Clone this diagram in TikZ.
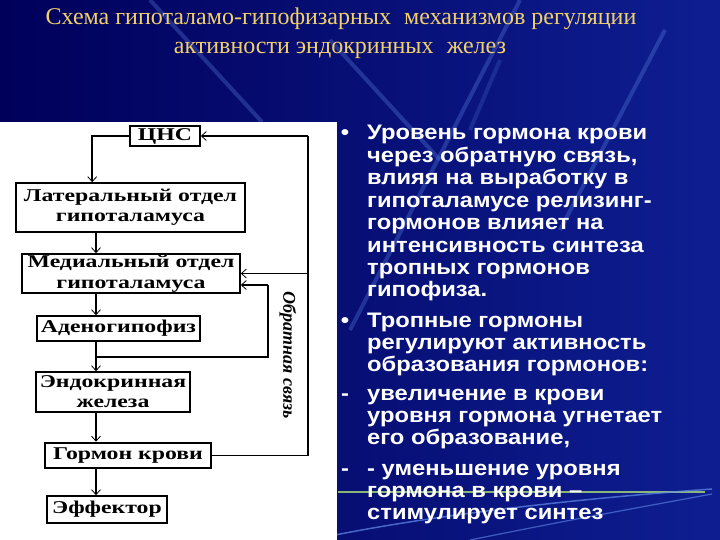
\documentclass[tikz,border=0pt]{standalone}
\usepackage{fontspec}
\setmainfont{Liberation Serif}
\newfontfamily\boxfont{Liberation Serif}[FakeStretch=1.32]
\newfontfamily\txtfont{Liberation Sans}[FakeStretch=1.13]
\usetikzlibrary{arrows.meta}
\definecolor{navyA}{RGB}{0,0,90}
\definecolor{navyB}{RGB}{14,30,145}
\definecolor{titleyel}{RGB}{242,208,105}
\definecolor{streak}{RGB}{100,140,235}
\definecolor{greenline}{RGB}{160,210,120}
\begin{document}
\begin{tikzpicture}[x=1pt,y=-1pt,
  box/.style={draw=black, line width=1.6pt, fill=white, inner sep=0pt, align=center,
    font=\boxfont\bfseries\fontsize{18}{20}\selectfont},
  arr/.style={line width=1.6pt, -{Straight Barb[length=5pt,width=9pt,line width=0.8pt]}},
  fbline/.style={line width=1.6pt},
  body/.style={anchor=base west, text=white, inner sep=0pt,
    font=\txtfont\bfseries\fontsize{21}{22.4}\selectfont},
  bulletmark/.style={anchor=base, text=white, inner sep=0pt,
    font=\txtfont\bfseries\fontsize{21}{22.4}\selectfont},
  ttl/.style={anchor=base, text=titleyel, inner sep=0pt, font=\fontsize{24}{28}\selectfont},
  streakline/.style={draw=streak, opacity=0.3, line width=4pt}
]
% background
\useasboundingbox (0,0) rectangle (720,540);
\shade[left color=navyA, right color=navyB] (0,0) rectangle (720,540);
\draw[streakline] (150,0) -- (262,122);
\draw[streakline] (520,0) -- (350,330);
\draw[streakline] (330,40) -- (440,160);
\draw[streakline] (665,30) -- (560,230);
\draw[streakline, opacity=0.2] (500,60) -- (470,130);
\draw[draw=greenline, line width=2.5pt, opacity=0.85] (338,492) -- (705,492);
\draw[draw=streak, line width=1.5pt, opacity=0.7] (330,536) .. controls (450,512) and (600,497) .. (712,489);
\draw[draw=streak, line width=1.2pt, opacity=0.6] (470,540) .. controls (560,522) .. (712,494);

% title
\node[ttl] (t1) at (341,25) {Схема гипоталамо-гипофизарных\hspace{0.3em} механизмов регуляции};
\node[ttl] (t2) at (340,54) {активности эндокринных\hspace{0.3em} желез};

% white panel
\fill[white] (0,122) rectangle (337,540);

% boxes
\node[box, minimum width=70pt, minimum height=20pt] (cns) at (165,136) {ЦНС};
\node[box, minimum width=229pt, minimum height=49pt] (lat) at (130.5,207.5) {Латеральный отдел\\гипоталамуса};
\node[box, minimum width=218pt, minimum height=39pt, font=\boxfont\bfseries\fontsize{18}{21}\selectfont] (med) at (131,273.5) {Медиальный отдел\\гипоталамуса};
\node[box, minimum width=163pt, minimum height=25pt] (aden) at (118.5,328.5) {Аденогипофиз};
\node[box, minimum width=154pt, minimum height=40pt] (endo) at (113,392) {Эндокринная\\железа};
\node[box, line width=2.6pt, minimum width=166pt, minimum height=25pt] (horm) at (128,455.5) {Гормон крови};
\node[box, minimum width=120pt, minimum height=27pt] (eff) at (107,509.5) {Эффектор};

% connector coordinates
\coordinate (spine) at (96,0);
\coordinate (fbx) at (308,0);
\coordinate (lp) at (96,357);
\coordinate (lq) at (268,285);

\draw[arr] (cns.west) -| ([xshift=77pt]lat.north west);
\draw[arr] (lat.south -| spine) -- (med.north -| spine);
\draw[arr] (med.south -| spine) -- (aden.north -| spine);
\draw[arr] (aden.south -| spine) -- (endo.north -| spine);
\draw[arr] (endo.south -| spine) -- (horm.north -| spine);
\draw[arr] (horm.south -| spine) -- (eff.north -| spine);
% main feedback
\draw[fbline] (horm.east) -| (fbx |- cns.east);
\draw[arr] (fbx |- cns.east) -- (cns.east);
\draw[arr] (fbx |- med.east) -- (med.east);
% small loop
\draw[fbline] (lp) -| (lq);
\draw[arr] (lq) -- (lq -| med.east);

\node[rotate=-90, font=\bfseries\itshape\fontsize{18}{18}\selectfont, inner sep=0pt] (fblabel) at (288,355) {Обратная связь};

% right text
\node[bulletmark] (b1) at (345,140) {•};
\node[body] (p1a) at (367,140) {Уровень гормона крови};
\node[body] (p1b) at (367,162.4) {через обратную связь,};
\node[body] (p1c) at (367,184.8) {влияя на выработку в};
\node[body] (p1d) at (367,207.2) {гипоталамусе релизинг-};
\node[body] (p1e) at (367,229.6) {гормонов влияет на};
\node[body] (p1f) at (367,252) {интенсивность синтеза};
\node[body] (p1g) at (367,274.4) {тропных гормонов};
\node[body] (p1h) at (367,296.8) {гипофиза.};

\node[bulletmark] (b2) at (345,327) {•};
\node[body] (p2a) at (367,327) {Тропные гормоны};
\node[body] (p2b) at (367,349.4) {регулируют активность};
\node[body] (p2c) at (367,371.8) {образования гормонов:};

\node[bulletmark] (b3) at (345,400) {-};
\node[body] (p3a) at (367,400) {увеличение в крови};
\node[body] (p3b) at (367,422.4) {уровня гормона угнетает};
\node[body] (p3c) at (367,444.8) {его образование,};

\node[bulletmark] (b4) at (345,475) {-};
\node[body] (p4a) at (367,475) {- уменьшение уровня};
\node[body] (p4b) at (367,497.4) {гормона в крови –};
\node[body] (p4c) at (367,519.8) {стимулирует синтез};
\end{tikzpicture}
\end{document}
